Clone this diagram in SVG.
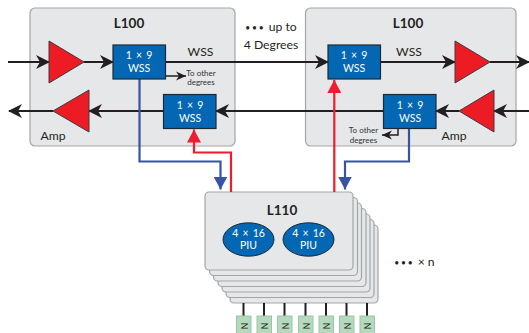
<svg xmlns="http://www.w3.org/2000/svg" width="529" height="333" viewBox="0 0 529 333">
<style>
text{font-family:"Lato","Open Sans","Liberation Sans",sans-serif;text-anchor:middle}
.card{fill:#e6e7e8;stroke:#a3a6a8;stroke-width:1.2}
.wss{fill:#0467b4;stroke:#1d2a33;stroke-width:1.2}
.amp{fill:#ed1c24;stroke:#3a3a3c;stroke-width:1}
.k{fill:none;stroke:#231f20;stroke-width:2}
.b{fill:none;stroke:#3953a4;stroke-width:2.2}
.r{fill:none;stroke:#ed1c2e;stroke-width:2.2}
.w{fill:#fff;font-size:10.5px;word-spacing:1.5px}
.t{fill:#231f20;font-size:12.2px}
.s{fill:#333;font-size:8px}
.h{fill:#231f20;font-size:13.5px;font-weight:700}
.g{fill:#b5d9bd;stroke:#9cc5a6;stroke-width:1}
.n{fill:#231f20;font-size:8.500px}
.d{font-size:8.500px;letter-spacing:1.800px}
</style>
<defs>
<marker id="ak" markerUnits="userSpaceOnUse" markerWidth="15" markerHeight="14" refX="13" refY="7" orient="auto"><path d="M0 0L14 7L0 14L4 7Z" fill="#231f20"/></marker>
<marker id="ak2" markerUnits="userSpaceOnUse" markerWidth="11" markerHeight="10" refX="10" refY="5" orient="auto"><path d="M0 .5L10 5L0 9.5L3 5Z" fill="#231f20"/></marker>
<marker id="ab" markerUnits="userSpaceOnUse" markerWidth="15" markerHeight="14" refX="13" refY="7" orient="auto"><path d="M0 0L13 7L0 14Z" fill="#3953a4"/></marker>
<marker id="ar" markerUnits="userSpaceOnUse" markerWidth="15" markerHeight="14" refX="13" refY="7" orient="auto"><path d="M0 0L13 7L0 14Z" fill="#ed1c2e"/></marker>
</defs>
<g id="l100-left">
<rect class="card" x="30" y="8" width="205" height="138" rx="5"/>
<text class="h" x="129" y="28">L100</text>
<text class="t" x="53" y="140">Amp</text>
</g>
<g id="l100-right">
<rect class="card" x="305.500" y="8" width="210.500" height="138" rx="5"/>
<text class="h" x="408" y="28">L100</text>
<text class="t" x="454" y="140">Amp</text>
</g>
<g id="l110-stack">
<rect class="card" x="230" y="225" width="148" height="78" rx="4"/>
<rect class="card" x="226" y="219.500" width="148" height="78" rx="4"/>
<rect class="card" x="222" y="214" width="148" height="78" rx="4"/>
<rect class="card" x="218" y="208.500" width="148" height="78" rx="4"/>
<rect class="card" x="213.500" y="203" width="148" height="78" rx="4"/>
<rect class="card" x="209.500" y="197.500" width="148" height="78" rx="4"/>
<rect class="card" x="205" y="192" width="148" height="78" rx="4"/>
<text class="h" x="282" y="215">L110</text>
</g>
<g id="connectors">
<path class="k" d="M8 62H49" marker-end="url(#ak)"/>
<path class="k" d="M84 62H113" marker-end="url(#ak)"/>
<path class="k" d="M165 62H328" marker-end="url(#ak)"/>
<path class="k" d="M380 62H455" marker-end="url(#ak)"/>
<path class="k" d="M490 62H529" marker-end="url(#ak)"/>
<path class="k" d="M529 111H494" marker-end="url(#ak)"/>
<path class="k" d="M459 111H436" marker-end="url(#ak)"/>
<path class="k" d="M383 111H216" marker-end="url(#ak)"/>
<path class="k" d="M163 111H89" marker-end="url(#ak)"/>
<path class="k" d="M53 111H9" marker-end="url(#ak)"/>
<path class="k" style="stroke-width:1.500" d="M165 76H186" marker-end="url(#ak2)"/>
<path class="k" style="stroke-width:1.500" d="M398 128V135H382" marker-end="url(#ak2)"/>
<path class="b" d="M139.500 79V161.500H220.500V189.500" marker-end="url(#ab)"/>
<path class="b" d="M409 128V161.500H345V189.500" marker-end="url(#ab)"/>
<path class="r" d="M231 192V152.500H194V129.500" marker-end="url(#ar)"/>
<path class="r" d="M334.300 192V80" marker-end="url(#ar)"/>
<path class="k" d="M243.500 303V316M264 303V316M284.500 303V316M305.500 303V316M326 303V316M346.500 303V316M367 303V316"/>
</g>
<g id="wss-1"><rect class="wss" x="113" y="45" width="52.500" height="34"/><text class="w" x="139" y="59">1 × 9</text><text class="w" x="139" y="72">WSS</text></g>
<g id="wss-2"><rect class="wss" x="163.500" y="94.500" width="52.500" height="34"/><text class="w" x="190" y="108.500">1 × 9</text><text class="w" x="190" y="122">WSS</text></g>
<g id="wss-3"><rect class="wss" x="328" y="45" width="52.500" height="34"/><text class="w" x="354" y="59">1 × 9</text><text class="w" x="354" y="72">WSS</text></g>
<g id="wss-4"><rect class="wss" x="383.500" y="94.500" width="52.500" height="34"/><text class="w" x="410" y="108.500">1 × 9</text><text class="w" x="410" y="122">WSS</text></g>
<g id="amp-1"><path class="amp" d="M49 41L84 62L49 83Z"/></g>
<g id="amp-2"><path class="amp" d="M89 90L53 111L89 132Z"/></g>
<g id="amp-3"><path class="amp" d="M455 41L490 62L455 83Z"/></g>
<g id="amp-4"><path class="amp" d="M494 90L459 111L494 132Z"/></g>
<g id="piu-1"><ellipse cx="248.500" cy="239.500" rx="25.500" ry="16.700" fill="#0467b4" stroke="#1d2a33" stroke-width="1"/><text class="w" x="248.500" y="237">4 × 16</text><text class="w" x="248.500" y="249">PIU</text></g>
<g id="piu-2"><ellipse cx="308.500" cy="239.500" rx="25.500" ry="16.700" fill="#0467b4" stroke="#1d2a33" stroke-width="1"/><text class="w" x="308.500" y="237">4 × 16</text><text class="w" x="308.500" y="249">PIU</text></g>
<g id="ports">
<rect class="g" x="236.500" y="316" width="14.500" height="18"/><text class="n" transform="translate(243.500 326) rotate(90)" y="3">N</text>
<rect class="g" x="257" y="316" width="14.500" height="18"/><text class="n" transform="translate(264 326) rotate(90)" y="3">N</text>
<rect class="g" x="277.500" y="316" width="14.500" height="18"/><text class="n" transform="translate(284.500 326) rotate(90)" y="3">N</text>
<rect class="g" x="298.500" y="316" width="14.500" height="18"/><text class="n" transform="translate(305.500 326) rotate(90)" y="3">N</text>
<rect class="g" x="319" y="316" width="14.500" height="18"/><text class="n" transform="translate(326 326) rotate(90)" y="3">N</text>
<rect class="g" x="339.500" y="316" width="14.500" height="18"/><text class="n" transform="translate(346.500 326) rotate(90)" y="3">N</text>
<rect class="g" x="360" y="316" width="14.500" height="18"/><text class="n" transform="translate(367 326) rotate(90)" y="3">N</text>
</g>
<g id="labels">
<text class="t" x="200.500" y="56">WSS</text>
<text class="t" x="409" y="56">WSS</text>
<text class="s" x="201" y="75.500">To other</text>
<text class="s" x="201" y="85">degrees</text>
<text class="s" x="363.500" y="133">To other</text>
<text class="s" x="363.500" y="143">degrees</text>
<text class="t" x="271" y="31"><tspan class="d">•••</tspan> up to</text>
<text class="t" x="271" y="49">4 Degrees</text>
<text class="t" x="414.500" y="266"><tspan class="d">•••</tspan> × n</text>
</g>
</svg>
